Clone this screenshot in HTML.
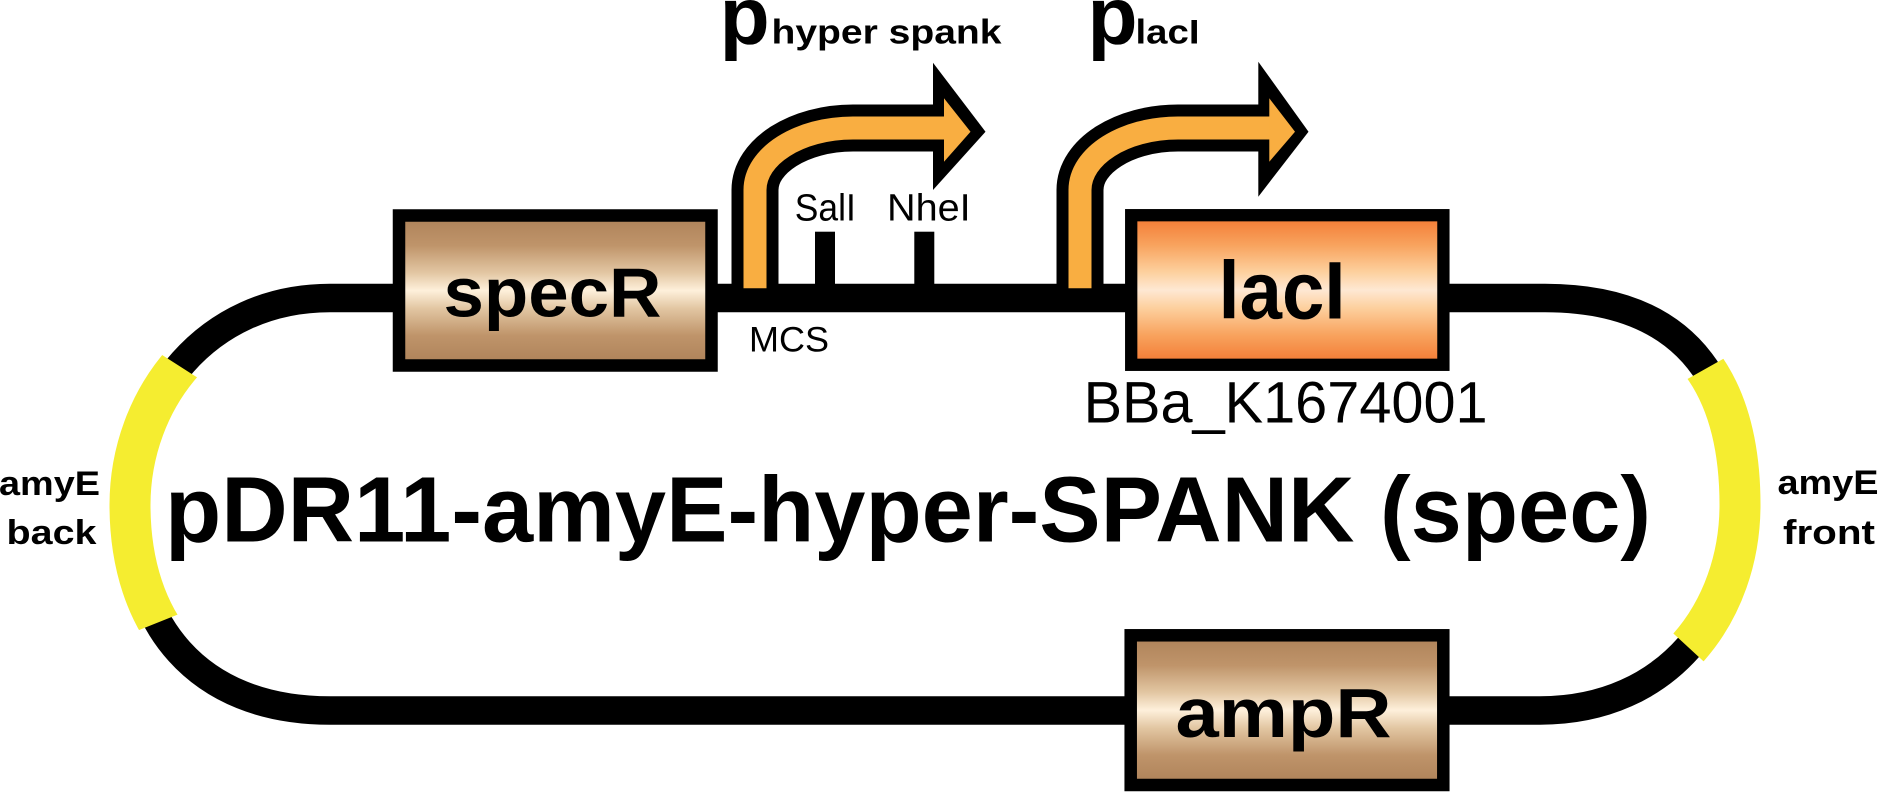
<!DOCTYPE html>
<html>
<head>
<meta charset="utf-8">
<style>
  html, body { margin: 0; padding: 0; background: #ffffff; }
  svg { display: block; }
  .b { font-family: "Liberation Sans", sans-serif; font-weight: bold; fill: #000; }
  .r { font-family: "Liberation Sans", sans-serif; font-weight: normal; fill: #000; }
</style>
</head>
<body>
<svg width="1878" height="792" viewBox="0 0 1878 792" xmlns="http://www.w3.org/2000/svg">
  <defs>
    <linearGradient id="brown" x1="0" y1="0" x2="0" y2="1">
      <stop offset="0" stop-color="#ad8158"/>
      <stop offset="0.2" stop-color="#bf946a"/>
      <stop offset="0.38" stop-color="#e2c6a2"/>
      <stop offset="0.5" stop-color="#fef0db"/>
      <stop offset="0.62" stop-color="#e2c6a2"/>
      <stop offset="0.8" stop-color="#bf946a"/>
      <stop offset="1" stop-color="#ad8158"/>
    </linearGradient>
    <linearGradient id="orange" x1="0" y1="0" x2="0" y2="1">
      <stop offset="0" stop-color="#f37730"/>
      <stop offset="0.2" stop-color="#f8a35e"/>
      <stop offset="0.38" stop-color="#fdd09e"/>
      <stop offset="0.5" stop-color="#fee8d3"/>
      <stop offset="0.62" stop-color="#fdd09e"/>
      <stop offset="0.8" stop-color="#f8a35e"/>
      <stop offset="1" stop-color="#f37730"/>
    </linearGradient>
    <clipPath id="clipL">
      <polygon points="60,289.5 260,417.7 260,581.6 60,661.7"/>
    </clipPath>
    <clipPath id="clipR">
      <polygon points="1620,416.9 1820,304.5 1820,768.9 1620,584.2"/>
    </clipPath>
  </defs>

  <rect x="0" y="0" width="1878" height="792" fill="#ffffff"/>

  <!-- backbone loop -->
  <path d="M 330 298 C 205 298, 130 400, 130 505 C 130 622, 195 710.5, 330 710.5 L 1540 710.5 C 1670 710.5, 1740 610, 1740 505 C 1740 400, 1700 298, 1545 298 Z"
        fill="none" stroke="#000" stroke-width="28.5"/>

  <!-- yellow amyE arcs -->
  <path d="M 330 298 C 205 298, 130 400, 130 505 C 130 622, 195 710.5, 330 710.5"
        fill="none" stroke="#f5ed30" stroke-width="41" clip-path="url(#clipL)"/>
  <path d="M 1540 710.5 C 1670 710.5, 1740 610, 1740 505 C 1740 400, 1700 298, 1545 298"
        fill="none" stroke="#f5ed30" stroke-width="41" clip-path="url(#clipR)"/>

  <!-- boxes -->
  <rect x="399" y="215.5" width="312.5" height="150" fill="url(#brown)" stroke="#000" stroke-width="12.5"/>
  <rect x="1131.2" y="215.2" width="312.2" height="149.6" fill="url(#orange)" stroke="#000" stroke-width="12.3"/>
  <rect x="1130.7" y="635.3" width="312.6" height="149.7" fill="url(#brown)" stroke="#000" stroke-width="12.5"/>

  <!-- restriction site ticks -->
  <rect x="815" y="231.7" width="20" height="60" fill="#000"/>
  <rect x="914.3" y="231.7" width="20" height="60" fill="#000"/>

  <!-- promoter arrow 1 (hyper spank) -->
  <path d="M 755 292 L 755 190 C 755 156, 799 128, 853 128 L 934 128" fill="none" stroke="#000" stroke-width="47"/>
  <polygon points="933,62.7 985.5,131.7 933,190" fill="#000"/>
  <path d="M 755 288.3 L 755 190 C 755 156, 799 128, 853 128 L 946 128" fill="none" stroke="#f9ae41" stroke-width="23"/>
  <polygon points="944,98.3 970.5,131.7 944,161.7" fill="#f9ae41"/>

  <!-- promoter arrow 2 (lacI) -->
  <path d="M 1080 292 L 1080 190 C 1080 156, 1124 128, 1178 128 L 1259 128" fill="none" stroke="#000" stroke-width="47"/>
  <polygon points="1258.3,61.7 1308.5,131.7 1258.3,196.7" fill="#000"/>
  <path d="M 1080 288.3 L 1080 190 C 1080 156, 1124 128, 1178 128 L 1271 128" fill="none" stroke="#f9ae41" stroke-width="23"/>
  <polygon points="1269.3,98.3 1295,131.7 1269.3,161.7" fill="#f9ae41"/>

  <!-- promoter labels -->
  <text class="b" x="719.6" y="44" font-size="82">p</text>
  <text class="b" x="771.5" y="43.3" font-size="34" textLength="230" lengthAdjust="spacingAndGlyphs">hyper spank</text>
  <text class="b" x="1087.5" y="44" font-size="82">p</text>
  <text class="b" x="1135.5" y="43.3" font-size="34" textLength="64" lengthAdjust="spacingAndGlyphs">lacI</text>

  <!-- site labels -->
  <text class="r" x="794.8" y="220.7" font-size="37.6" textLength="61" lengthAdjust="spacingAndGlyphs">SalI</text>
  <text class="r" x="887" y="220.7" font-size="37.6" textLength="83.7" lengthAdjust="spacingAndGlyphs">NheI</text>
  <text class="r" x="749" y="351.7" font-size="35" textLength="80" lengthAdjust="spacingAndGlyphs">MCS</text>

  <!-- gene labels -->
  <text class="b" x="443.5" y="316.7" font-size="70" textLength="218" lengthAdjust="spacingAndGlyphs">specR</text>
  <text class="b" x="1218.5" y="318.3" font-size="82" textLength="127" lengthAdjust="spacingAndGlyphs">lacI</text>
  <text class="b" x="1175.5" y="737" font-size="70" textLength="216" lengthAdjust="spacingAndGlyphs">ampR</text>
  <text class="r" x="1083.6" y="422.7" font-size="58.5" textLength="404" lengthAdjust="spacingAndGlyphs">BBa_K1674001</text>

  <!-- title -->
  <text class="b" x="165" y="541.7" font-size="93" textLength="1486" lengthAdjust="spacingAndGlyphs">pDR11-amyE-hyper-SPANK (spec)</text>

  <!-- amyE labels -->
  <text class="b" x="-1" y="495" font-size="34" textLength="101" lengthAdjust="spacingAndGlyphs">amyE</text>
  <text class="b" x="6.5" y="544" font-size="34" textLength="90" lengthAdjust="spacingAndGlyphs">back</text>
  <text class="b" x="1777.5" y="494" font-size="34" textLength="101" lengthAdjust="spacingAndGlyphs">amyE</text>
  <text class="b" x="1783" y="544" font-size="34" textLength="92" lengthAdjust="spacingAndGlyphs">front</text>
</svg>
</body>
</html>
